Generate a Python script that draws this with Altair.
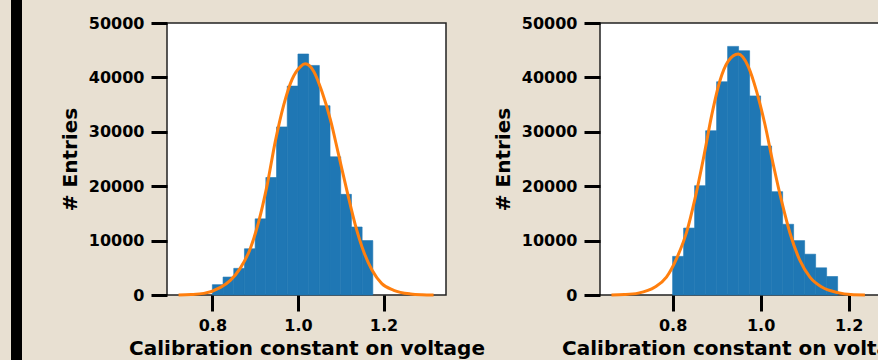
import altair as alt
import pandas as pd

# ---- data ----
bin_edges = [0.8, 0.825, 0.85, 0.875, 0.9, 0.925, 0.95, 0.975, 1.0,
             1.025, 1.05, 1.075, 1.1, 1.125, 1.15, 1.175]

left_counts = [1900, 3300, 4900, 8500, 14000, 21600, 30900, 38400,
               44300, 42200, 34800, 25400, 18500, 12500, 10000]
right_counts = [7100, 12300, 20100, 30200, 39200, 45700, 44900, 36600,
                27400, 19000, 13000, 10000, 7500, 5000, 3400]

left_fit_x = [0.721, 0.750, 0.780, 0.819, 0.842, 0.865, 0.889, 0.908, 0.928,
              0.947, 0.967, 0.986, 1.006, 1.017, 1.037, 1.056, 1.076, 1.095,
              1.115, 1.134, 1.154, 1.173, 1.196, 1.224, 1.263, 1.290, 1.317]
left_fit_y = [20, 90, 300, 1400, 2700, 4900, 8600, 13400, 20200,
              28200, 35000, 39600, 42000, 42500, 41100, 37400, 32200, 25800,
              19000, 12900, 7900, 4600, 2100, 870, 200, 60, 20]

right_fit_x = [0.661, 0.690, 0.722, 0.760, 0.786, 0.809, 0.832, 0.851, 0.870,
               0.889, 0.907, 0.926, 0.949, 0.972, 0.991, 1.010, 1.029, 1.048,
               1.067, 1.089, 1.112, 1.139, 1.176, 1.205, 1.237]
right_fit_y = [20, 90, 350, 1470, 3300, 6700, 11600, 17750, 25100,
               33100, 39250, 42950, 44300, 42000, 37400, 31300, 23900, 17150,
               11300, 6400, 3300, 1470, 440, 100, 20]

x_ticks = [0.8, 1.0, 1.2]
y_ticks = [0, 10000, 20000, 30000, 40000, 50000]
left_xdomain = [0.694, 1.346]
right_xdomain = [0.635, 1.269]

X_TITLE = "Calibration constant on voltage"
Y_TITLE = "# Entries"


def panel(counts, fx, fy, xdomain, decorate=False):
    hist = pd.DataFrame({"lo": bin_edges[:-1], "hi": bin_edges[1:],
                         "n": counts, "zero": [0] * len(counts)})
    fit = pd.DataFrame({"x": fx, "y": fy})
    xs = alt.Scale(domain=xdomain, nice=False, zero=False)
    ys = alt.Scale(domain=[0, 50000], nice=False)
    xax = alt.Axis(values=x_ticks, format=".1f", title=X_TITLE,
                   labelPadding=6, titlePadding=5)
    yax = alt.Axis(values=y_ticks, format="d", title=Y_TITLE,
                   labelPadding=7, titlePadding=8)
    bars = alt.Chart(hist).mark_rect(
        color="#1f77b4", stroke="#1f77b4", strokeWidth=0.6
    ).encode(
        x=alt.X("lo:Q", scale=xs, axis=xax),
        x2="hi:Q",
        y=alt.Y("n:Q", scale=ys, axis=yax),
        y2="zero:Q",
    )
    line = alt.Chart(fit).mark_line(
        color="#ff7f0e", strokeWidth=3, interpolate="monotone"
    ).encode(
        x=alt.X("x:Q", scale=xs, axis=xax),
        y=alt.Y("y:Q", scale=ys, axis=yax),
    )
    layers = [bars, line]
    if decorate:
        stripe = alt.Chart(pd.DataFrame({"k": [0]})).mark_rect(color="black").encode(
            x=alt.value(-156), x2=alt.value(-145),
            y=alt.value(-23), y2=alt.value(337),
        )
        layers = [stripe] + layers
    return alt.layer(*layers).properties(width=279, height=272)


left = panel(left_counts, left_fit_x, left_fit_y, left_xdomain, decorate=True)
right = panel(right_counts, right_fit_x, right_fit_y, right_xdomain)

chart = alt.hconcat(left, right, spacing=154, bounds="flush").properties(
    background="#e8e0d2",
    autosize=alt.AutoSizeParams(type="none"),
    padding={"left": 167, "top": 23, "right": 711, "bottom": 337},
).configure_view(
    stroke="#222222", strokeWidth=1.5, fill="white"
).configure_axis(
    domain=False, grid=False,
    tickColor="black", tickWidth=3, tickSize=16,
    labelFont="DejaVu Sans", labelFontSize=16, labelFontWeight="bold",
    labelColor="black",
    titleFont="DejaVu Sans", titleFontSize=20, titleFontWeight="bold",
    titleColor="black",
)

chart.save("out.html", embed_options={"renderer": "svg", "actions": False})
